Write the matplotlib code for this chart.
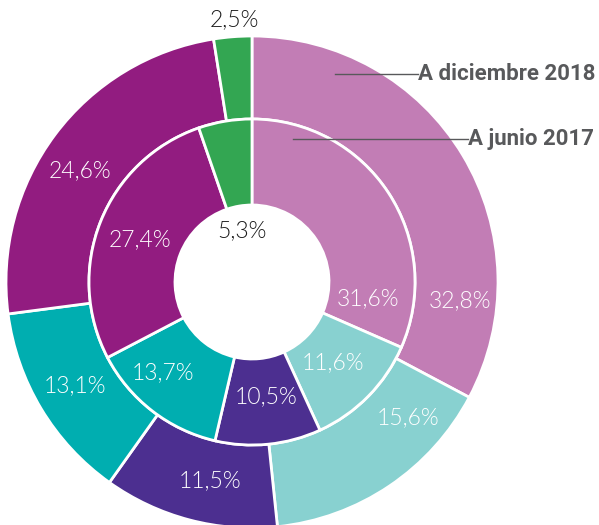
import numpy as np
import matplotlib as mpl
import matplotlib.pyplot as plt

mpl.rcParams['font.family'] = ['Lato', 'DejaVu Sans']

# Data: clockwise from 12 o'clock
labels = ['Grupo 1', 'Grupo 2', 'Grupo 3', 'Grupo 4', 'Grupo 5', 'Grupo 6']
dic_2018 = [32.8, 15.6, 11.5, 13.1, 24.6, 2.5]
jun_2017 = [31.6, 11.6, 10.5, 13.7, 27.4, 5.3]
colors = ['#c27db5', '#88d1d0', '#4c2f90', '#00aeb0', '#921c80', '#33a652']

W, H = 599, 525


def py(y):
    # pixel row -> data y
    return H - y


fig = plt.figure(figsize=(W / 100, H / 100), dpi=100)
ax = fig.add_axes([0, 0, 1, 1])

cx, cy = 252, py(282)
r_out, r_mid, r_in = 246, 163, 77

ax.pie(dic_2018, radius=r_out, center=(cx, cy), startangle=90,
       counterclock=False, colors=colors,
       wedgeprops=dict(width=r_out - r_mid, edgecolor='white', linewidth=2))
ax.pie(jun_2017, radius=r_mid, center=(cx, cy), startangle=90,
       counterclock=False, colors=colors,
       wedgeprops=dict(width=r_mid - r_in, edgecolor='white', linewidth=2))

ax.set_xlim(0, W)
ax.set_ylim(0, H)
ax.set_aspect('equal')
ax.axis('off')

# label positions (pixels)
out_pos = [(460, 301), (408, 418), (210, 481), (75, 386), (80, 171), (234, 20)]
in_pos = [(368, 299), (333, 363), (266, 397), (163, 373), (140, 240), (242, 231)]


def fmt(v):
    return ('%.1f%%' % v).replace('.', ',')


for i, v in enumerate(dic_2018):
    c = '#1a1a1a' if i == 5 else 'white'
    ax.text(out_pos[i][0], py(out_pos[i][1]), fmt(v), color=c, fontsize=16.5,
            fontweight=300, ha='center', va='center')
for i, v in enumerate(jun_2017):
    c = '#1a1a1a' if i == 5 else 'white'
    ax.text(in_pos[i][0], py(in_pos[i][1]), fmt(v), color=c, fontsize=16.5,
            fontweight=300, ha='center', va='center')

# series callouts
grey = '#58595b'
ax.plot([335, 418], [py(74), py(74)], color=grey, lw=1)
ax.plot([293, 468], [py(139), py(139)], color=grey, lw=1)
ax.text(418, py(74), 'A diciembre 2018', color=grey, fontsize=16,
        fontweight='bold', ha='left', va='center',
        family=['Roboto', 'DejaVu Sans'])
ax.text(468, py(139), 'A junio 2017', color=grey, fontsize=16,
        fontweight='bold', ha='left', va='center',
        family=['Roboto', 'DejaVu Sans'])

fig.savefig('out.png', dpi=100)
